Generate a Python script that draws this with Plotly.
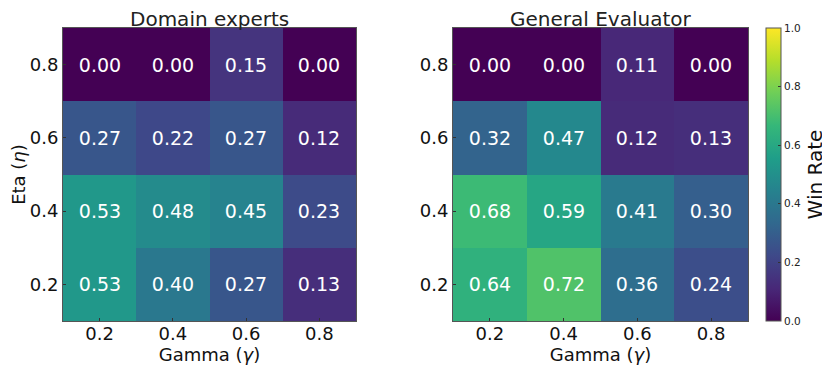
import plotly.graph_objects as go
from plotly.subplots import make_subplots

gamma = [0.2, 0.4, 0.6, 0.8]
eta = [0.2, 0.4, 0.6, 0.8]

# rows follow eta (0.2 -> 0.8), columns follow gamma
domain_experts = [
    [0.53, 0.40, 0.27, 0.13],
    [0.53, 0.48, 0.45, 0.23],
    [0.27, 0.22, 0.27, 0.12],
    [0.00, 0.00, 0.15, 0.00],
]
general_evaluator = [
    [0.64, 0.72, 0.36, 0.24],
    [0.68, 0.59, 0.41, 0.30],
    [0.32, 0.47, 0.12, 0.13],
    [0.00, 0.00, 0.11, 0.00],
]
titles = ["Domain experts", "General Evaluator"]

# page body adds an 8px offset, so the figure is 822x364
OFF = 8
W, H = 830 - OFF, 372 - OFF
L, T = 63 - OFF, 28 - OFF
R = W - (748 - OFF)
B = H - (321 - OFF)
PW = W - L - R
FONT = "DejaVu Sans"


def px(x):
    return (x - OFF - L) / PW


fig = make_subplots(rows=1, cols=2)

for i, z in enumerate([domain_experts, general_evaluator]):
    fig.add_trace(go.Heatmap(
        x=gamma, y=eta, z=z,
        zmin=0, zmax=1, colorscale="Viridis",
        texttemplate="%{z:.2f}",
        textfont=dict(family=FONT, size=19, color="white"),
        showscale=(i == 1),
        colorbar=dict(
            x=px(766), xanchor="left", xpad=0, ypad=0, thickness=15,
            y=0, yanchor="bottom", len=1, lenmode="fraction",
            outlinewidth=1, outlinecolor="#555",
            tickvals=[0, 0.2, 0.4, 0.6, 0.8, 1.0], ticktext=["0.0", "0.2", "0.4", "0.6", "0.8", "1.0"],
            ticks="inside", ticklen=3, tickcolor="#333",
            tickfont=dict(family=FONT, size=10.5, color="#222"),
            title=dict(text="Win Rate", side="right", font=dict(family=FONT, size=20, color="#111")),
        ),
    ), row=1, col=i + 1)

axis_common = dict(
    range=[0.1, 0.9], tickvals=[0.2, 0.4, 0.6, 0.8], ticktext=["0.2", "0.4", "0.6", "0.8"],
    showline=True, mirror=True, linecolor="#555", linewidth=1,
    ticks="inside", ticklen=3, tickcolor="#333",
    showgrid=False, zeroline=False, automargin=False,
    tickfont=dict(family=FONT, size=18, color="#111"),
)

fig.update_xaxes(**axis_common, ticklabelstandoff=-4,
                 title=dict(text="Gamma (<i>γ</i>)", font=dict(family=FONT, size=18, color="#111"), standoff=0))
fig.update_yaxes(**axis_common)
fig.update_layout(
    xaxis=dict(domain=[0, px(356)]),
    xaxis2=dict(domain=[px(453), 1]),
    yaxis=dict(domain=[0, 1],
               title=dict(text="Eta (<i>η</i>)", font=dict(family=FONT, size=18, color="#111"), standoff=4)),
    yaxis2=dict(domain=[0, 1]),
)

for i, t in enumerate(titles):
    cx = px((63 + 356) / 2) if i == 0 else px((453 + 748) / 2)
    fig.add_annotation(text=t, x=cx, y=1, xref="paper", yref="paper",
                       xanchor="center", yanchor="bottom", yshift=-5,
                       showarrow=False, font=dict(family=FONT, size=20, color="#222"))

fig.update_layout(
    width=W, height=H,
    margin=dict(l=L, r=R, t=T, b=B, autoexpand=False),
    paper_bgcolor="white", plot_bgcolor="white",
    font=dict(family=FONT),
)

fig.write_html("out.html")
